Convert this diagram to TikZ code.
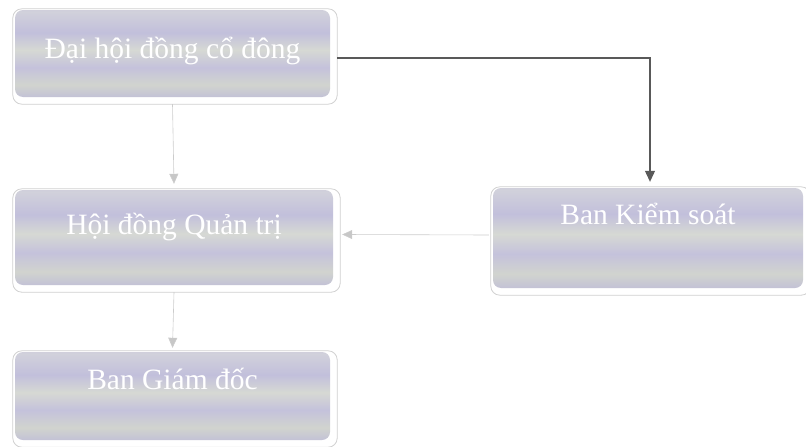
\documentclass[tikz,border=0pt]{standalone}
\usepackage{fontspec}
\setmainfont{Liberation Serif}
\usetikzlibrary{arrows.meta,backgrounds,calc}
\pgfdeclareverticalshading{stripes}{100bp}{%
  rgb(0bp)=(0.73,0.72,0.83);
  rgb(12bp)=(0.79,0.80,0.82);
  rgb(22bp)=(0.74,0.73,0.85);
  rgb(32bp)=(0.82,0.83,0.81);
  rgb(42bp)=(0.77,0.76,0.86);
  rgb(52bp)=(0.84,0.85,0.83);
  rgb(62bp)=(0.76,0.75,0.86);
  rgb(74bp)=(0.82,0.82,0.86);
  rgb(86bp)=(0.75,0.74,0.85);
  rgb(100bp)=(0.76,0.76,0.83)}
\tikzset{
  orgbox/.style={rectangle, rounded corners=8pt, shading=stripes, draw=none,
    inner sep=0pt, text=white, font=\fontsize{29.5}{31}\selectfont,
    text height=20pt, minimum width=#1},
  rim/.style={fill=white, draw=black!18, line width=0.8pt, rounded corners=9pt},
  lightarrow/.style={draw=black!20, line width=0.6pt,
    -{Triangle[length=10pt,width=9pt,fill=black!22]}},
  darkarrow/.style={draw=black!65, line width=1.1pt,
    -{Triangle[length=11pt,width=10pt,fill=black!65]}}
}
\begin{document}
\begin{tikzpicture}[x=1pt,y=-1pt]
\useasboundingbox (0,0) rectangle (806,447);
\node[orgbox=315pt, minimum height=87pt, text depth=11pt] (b1) at (172.5,53.5) {Đại hội đồng cổ đông};
\node[orgbox=318pt, minimum height=95pt, text depth=27pt] (b2) at (174,237.5) {Hội đồng Quản trị};
\node[orgbox=310pt, minimum height=100pt, text depth=47pt] (b3) at (648,238) {Ban Kiểm soát};
\node[orgbox=315pt, minimum height=88pt, text depth=33pt] (b4) at (172.5,396) {Ban Giám đốc};
\begin{scope}[on background layer]
  \foreach \b in {b1,b2,b3,b4}{
    \draw[rim] ($(\b.north west)+(-2,-1)$) rectangle ($(\b.south east)+(7,7)$);
  }
\end{scope}
\draw[lightarrow] ($(b1.south)+(0,7)$) -- ($(b2.north)+(0,-6)$);
\draw[lightarrow] ($(b2.south)+(0,7)$) -- ($(b4.north)+(0,-4)$);
\draw[lightarrow] ($(b3.west)+(-4,-3)$) -- ($(b2.east)+(9,-3)$);
\coordinate (turn) at (650,58);
\draw[darkarrow] (b1.east |- turn) ++(7,0) -- (turn) -- ($(b3.north)+(2,-6)$);
\end{tikzpicture}
\end{document}
